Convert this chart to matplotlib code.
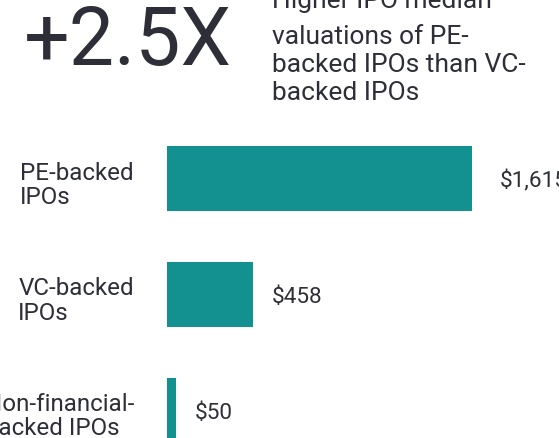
import matplotlib
matplotlib.use("Agg")
import matplotlib.pyplot as plt
import matplotlib.transforms as mtransforms

categories = ["PE-backed\nIPOs", "VC-backed\nIPOs", "Non-financial-\nbacked IPOs"]
values = [1615, 458, 50]
value_labels = ["$1,615", "$458", "$50"]
headline = "+2.5X"
subtitle_first = "Higher IPO median"
subtitle_rest = "valuations of PE-\nbacked IPOs than VC-\nbacked IPOs"

TEAL = "#139191"
TEXT = "#2e2e38"
W, H = 559, 439
plt.rcParams['font.family'] = ['Roboto', 'DejaVu Sans']

fig = plt.figure(figsize=(W / 100, H / 100), dpi=100)
fig.patch.set_facecolor("white")

x0 = 167
ax = fig.add_axes([x0 / W, 0, 1 - x0 / W, 1])
px_per_unit = 305 / 1615
ax.set_xlim(0, (W - x0) / px_per_unit)
pitch = 115.75
ax.set_ylim(2 + (H - 411) / pitch, -179.5 / pitch)
ypos = list(range(len(values)))
ax.barh(ypos, values, height=65 / pitch, color=TEAL)
ax.axis("off")

label_tr = mtransforms.blended_transform_factory(fig.transFigure, ax.transData)
for y, c in zip(ypos, categories):
    ax.text(134 / W, y + 0.05, c, transform=label_tr, ha="right", va="center",
            multialignment="left", fontsize=17.4, color=TEXT, linespacing=1.07,
            clip_on=False)

gaps = [28, 18, 18]
for y, v, lab, g in zip(ypos, values, value_labels, gaps):
    ax.annotate(lab, (v, y + 0.02), xytext=(g * 0.72, 0), textcoords="offset points",
                ha="left", va="center", fontsize=16.2, color=TEXT, annotation_clip=False)

fig.text(24 / W, 1 - 65 / H, headline, ha="left", va="baseline", fontsize=58,
         color=TEXT)
fig.text(272 / W, 1 - 8 / H, subtitle_first, ha="left", va="baseline", fontsize=19,
         color=TEXT)
fig.text(272 / W, 1 - 100.5 / H, subtitle_rest, ha="left", va="baseline", fontsize=19,
         color=TEXT, linespacing=1.22)

fig.savefig("out.png", dpi=100)
